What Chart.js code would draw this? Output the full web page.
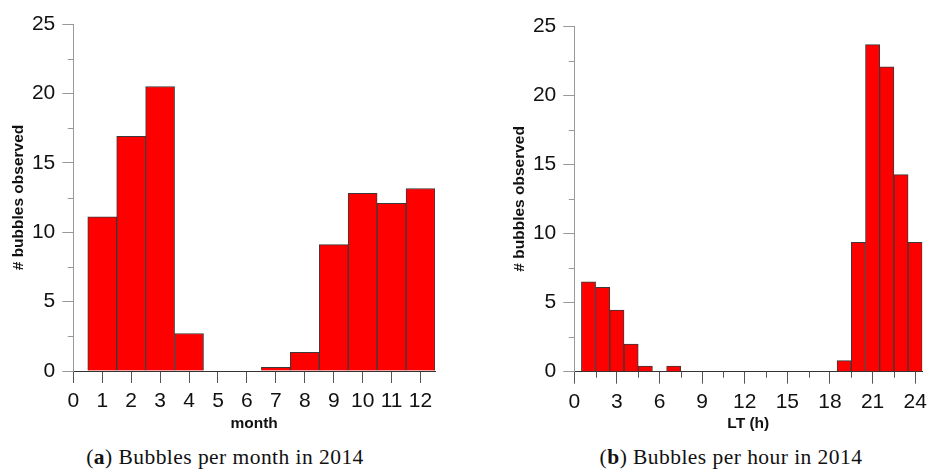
<!DOCTYPE html>
<html>
<head>
<meta charset="utf-8">
<script src="https://cdn.jsdelivr.net/npm/chart.js@4/dist/chart.umd.min.js"></script>
<style>
  html, body { margin: 0; padding: 0; background: #fff; }
  #wrap { position: relative; width: 933px; height: 470px; overflow: hidden; }
  .box { position: absolute; top: 0; }
  .cap { position: absolute; font-family: "Liberation Serif", serif; font-size: 21.5px; letter-spacing: 0.45px; color: #111; white-space: nowrap; transform: translateX(-50%); }
</style>
</head>
<body>
<div id="wrap">
  <div class="box" style="left:0px;width:460px;height:440px;"><canvas id="c1"></canvas></div>
  <div class="box" style="left:501px;width:432px;height:440px;"><canvas id="c2"></canvas></div>
  <div class="cap" style="left:225px;top:445px;">(<b>a</b>) Bubbles per month in 2014</div>
  <div class="cap" style="left:731px;top:445px;">(<b>b</b>) Bubbles per hour in 2014</div>
</div>
<script>
// ---- data ----
const monthCategories = [1, 2, 3, 4, 5, 6, 7, 8, 9, 10, 11, 12];
const monthValues = [11.1, 16.9, 20.5, 2.7, 0, 0, 0.27, 1.35, 9.1, 12.8, 12.08, 13.15];
const monthTicks = [0, 1, 2, 3, 4, 5, 6, 7, 8, 9, 10, 11, 12];
const monthMinorTicks = [];

const hourCategories = [1, 2, 3, 4, 5, 6, 7, 8, 9, 10, 11, 12, 13, 14, 15, 16, 17, 18, 19, 20, 21, 22, 23, 24];
const hourValues = [6.5, 6.1, 4.45, 2.0, 0.4, 0, 0.4, 0, 0, 0, 0, 0, 0, 0, 0, 0, 0, 0, 0.8, 9.35, 23.65, 22.05, 14.25, 9.35];
const hourTicks = [0, 3, 6, 9, 12, 15, 18, 21, 24];
const hourMinorTicks = [1.5, 4.5, 7.5, 10.5, 13.5, 16.5, 19.5, 22.5];

const countTicks = [0, 5, 10, 15, 20, 25];
const countMinorTicks = [2.5, 7.5, 12.5, 17.5, 22.5];

const yTitle = '# bubbles observed';
const monthTitle = 'month';
const hourTitle = 'LT (h)';

// ---- minor tick plugin (uses library scales) ----
const minorTicks = {
  id: 'minorTicks',
  afterDraw(chart) {
    const ctx = chart.ctx;
    const area = chart.chartArea;
    ctx.save();
    ctx.lineWidth = 1;
    const x = chart.scales.x, y = chart.scales.y;
    ctx.strokeStyle = '#555';
    (x.options.minorList || []).forEach(v => {
      const px = Math.round(x.getPixelForValue(v)) + 0.5;
      ctx.beginPath(); ctx.moveTo(px, area.bottom); ctx.lineTo(px, area.bottom + 6); ctx.stroke();
    });
    ctx.strokeStyle = '#999';
    (y.options.minorList || []).forEach(v => {
      const py = Math.round(y.getPixelForValue(v)) + 0.5;
      ctx.beginPath(); ctx.moveTo(area.left, py); ctx.lineTo(area.left - 5.5, py); ctx.stroke();
    });
    ctx.restore();
  }
};

function makeChart(id, cats, vals, xTicks, xMinor, xMax, xTitle, pad) {
  const tickFont = { family: '"Liberation Sans", Arial, sans-serif', size: 21 };
  const titleFont = { family: '"Liberation Sans", Arial, sans-serif', size: 15.5, weight: 'bold' };
  return new Chart(document.getElementById(id), {
    type: 'bar',
    data: {
      datasets: [{
        data: cats.map((c, i) => ({ x: c, y: vals[i] })),
        backgroundColor: '#ff0000',
        borderColor: '#3a3a3a',
        borderWidth: 1,
        borderSkipped: 'bottom',
        categoryPercentage: 1,
        barPercentage: 1
      }]
    },
    plugins: [minorTicks],
    options: {
      responsive: true,
      maintainAspectRatio: false,
      animation: false,
      events: [],
      layout: { padding: pad },
      plugins: { legend: { display: false }, tooltip: { enabled: false } },
      scales: {
        x: {
          type: 'linear',
          offset: false,
          min: 0,
          max: xMax,
          minorList: xMinor,
          afterBuildTicks: s => { s.ticks = xTicks.map(v => ({ value: v })); },
          afterFit: s => { s.height = pad.xh; },
          ticks: { autoSkip: false, maxRotation: 0, font: tickFont, color: '#111', padding: 6, includeBounds: false },
          grid: { offset: false, drawOnChartArea: false, drawTicks: true, tickLength: 12, tickColor: '#555' },
          border: { display: true, color: '#333', width: 1 },
          title: { display: true, text: xTitle, font: titleFont, color: '#111', padding: { top: 0, bottom: pad.tb } }
        },
        y: {
          type: 'linear',
          min: 0,
          max: 25,
          minorList: countMinorTicks,
          afterBuildTicks: s => { s.ticks = countTicks.map(v => ({ value: v })); },
          afterFit: s => { s.width = pad.yw; },
          ticks: { font: tickFont, color: '#111', padding: 7 },
          grid: { drawOnChartArea: false, drawTicks: true, tickLength: 11, tickColor: '#999' },
          border: { display: true, color: '#999', width: 1 },
          title: { display: true, text: yTitle, font: titleFont, color: '#111', padding: { top: 4, bottom: 0 } }
        }
      }
    }
  });
}

makeChart('c1', monthCategories, monthValues, monthTicks, monthMinorTicks, 12.5, monthTitle,
  { top: 24, left: 5.7, right: 25, bottom: 0, yw: 67.6, xh: 69, tb: 7.2 });
makeChart('c2', hourCategories, hourValues, hourTicks, hourMinorTicks, 24.5, hourTitle,
  { top: 26, left: 5.7, right: 5.3, bottom: 0, yw: 67.6, xh: 68.3, tb: 7.2 });
</script>
</body>
</html>
